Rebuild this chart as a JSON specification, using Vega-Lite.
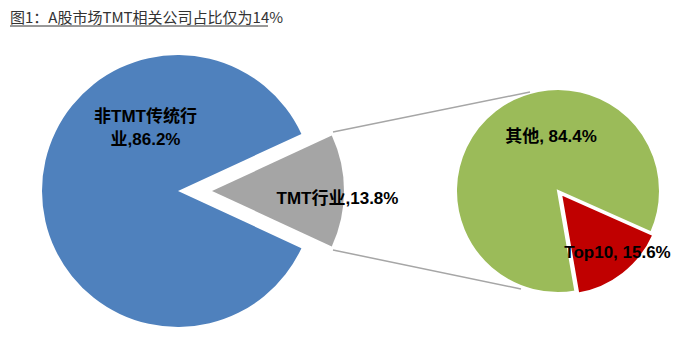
{
  "$schema": "https://vega.github.io/schema/vega-lite/v6.json",
  "width": 687,
  "height": 355,
  "autosize": {"type": "fit", "contains": "padding"},
  "padding": 0,
  "background": "white",
  "config": {"view": {"stroke": null}},
  "data": {
    "values": [
      {"pie": "全部A股", "category": "TMT行业", "share": 13.8, "label": "TMT行业,13.8%"},
      {"pie": "全部A股", "category": "非TMT传统行业", "share": 86.2, "label": ["非TMT传统行", "业,86.2%"]},
      {"pie": "TMT行业", "category": "Top10", "share": 15.6, "label": "Top10, 15.6%"},
      {"pie": "TMT行业", "category": "其他", "share": 84.4, "label": "其他, 84.4%"}
    ]
  },
  "layer": [
    {
      "transform": [
        {"stack": "share", "groupby": ["pie"], "as": ["s0", "s1"]},
        {"filter": "datum.category === '非TMT传统行业'"}
      ],
      "mark": {"type": "arc", "radius": 136, "color": "#4F81BD"},
      "encoding": {
        "x": {"datum": 178, "type": "quantitative", "scale": {"domain": [0, 687], "nice": false, "zero": false}, "axis": null},
        "y": {"datum": 191, "type": "quantitative", "scale": {"domain": [0, 355], "nice": false, "zero": false, "reverse": true}, "axis": null},
        "theta": {"field": "s0", "type": "quantitative", "scale": {"domain": [0, 100], "range": [1.1373, 7.4205]}},
        "theta2": {"field": "s1"}
      }
    },
    {
      "transform": [
        {"stack": "share", "groupby": ["pie"], "as": ["s0", "s1"]},
        {"filter": "datum.category === 'TMT行业'"}
      ],
      "mark": {"type": "arc", "radius": 132, "color": "#A5A5A5"},
      "encoding": {
        "x": {"datum": 212, "type": "quantitative", "scale": {"domain": [0, 687], "nice": false, "zero": false}, "axis": null},
        "y": {"datum": 191, "type": "quantitative", "scale": {"domain": [0, 355], "nice": false, "zero": false, "reverse": true}, "axis": null},
        "theta": {"field": "s0", "type": "quantitative", "scale": {"domain": [0, 100], "range": [1.1373, 7.4205]}},
        "theta2": {"field": "s1"}
      }
    },
    {
      "transform": [
        {"stack": "share", "groupby": ["pie"], "as": ["s0", "s1"]},
        {"filter": "datum.category === '其他'"}
      ],
      "mark": {"type": "arc", "radius": 102, "color": "#9BBB59", "stroke": "white", "strokeWidth": 2},
      "encoding": {
        "x": {"datum": 558, "type": "quantitative", "scale": {"domain": [0, 687], "nice": false, "zero": false}, "axis": null},
        "y": {"datum": 191, "type": "quantitative", "scale": {"domain": [0, 355], "nice": false, "zero": false, "reverse": true}, "axis": null},
        "theta": {"field": "s0", "type": "quantitative", "scale": {"domain": [0, 100], "range": [1.9897, 8.2729]}},
        "theta2": {"field": "s1"}
      }
    },
    {
      "transform": [
        {"stack": "share", "groupby": ["pie"], "as": ["s0", "s1"]},
        {"filter": "datum.category === 'Top10'"}
      ],
      "mark": {"type": "arc", "radius": 101, "color": "#C00000", "stroke": "white", "strokeWidth": 2},
      "encoding": {
        "x": {"datum": 561, "type": "quantitative", "scale": {"domain": [0, 687], "nice": false, "zero": false}, "axis": null},
        "y": {"datum": 194, "type": "quantitative", "scale": {"domain": [0, 355], "nice": false, "zero": false, "reverse": true}, "axis": null},
        "theta": {"field": "s0", "type": "quantitative", "scale": {"domain": [0, 100], "range": [1.9897, 8.2729]}},
        "theta2": {"field": "s1"}
      }
    },
    {
      "data": {"values": [{"connector": "top"}]},
      "mark": {"type": "rule", "color": "#A6A6A6", "strokeWidth": 1.5},
      "encoding": {
        "x": {"datum": 333, "type": "quantitative", "scale": {"domain": [0, 687], "nice": false, "zero": false}, "axis": null},
        "x2": {"datum": 530},
        "y": {"datum": 132, "type": "quantitative", "scale": {"domain": [0, 355], "nice": false, "zero": false, "reverse": true}, "axis": null},
        "y2": {"datum": 92}
      }
    },
    {
      "data": {"values": [{"connector": "bottom"}]},
      "mark": {"type": "rule", "color": "#A6A6A6", "strokeWidth": 1.5},
      "encoding": {
        "x": {"datum": 333, "type": "quantitative", "scale": {"domain": [0, 687], "nice": false, "zero": false}, "axis": null},
        "x2": {"datum": 521},
        "y": {"datum": 250, "type": "quantitative", "scale": {"domain": [0, 355], "nice": false, "zero": false, "reverse": true}, "axis": null},
        "y2": {"datum": 289}
      }
    },
    {
      "data": {"values": [{"title": "图1：A股市场TMT相关公司占比仅为14%"}]},
      "mark": {"type": "text", "font": "Noto Sans CJK SC", "fontSize": 15, "color": "#333333", "align": "left", "baseline": "alphabetic"},
      "encoding": {
        "x": {"datum": 10, "type": "quantitative", "scale": {"domain": [0, 687], "nice": false, "zero": false}, "axis": null},
        "y": {"datum": 23, "type": "quantitative", "scale": {"domain": [0, 355], "nice": false, "zero": false, "reverse": true}, "axis": null},
        "text": {"field": "title"}
      }
    },
    {
      "data": {"values": [{"underline": "title"}]},
      "mark": {"type": "rule", "color": "#333333", "strokeWidth": 1},
      "encoding": {
        "x": {"datum": 10, "type": "quantitative", "scale": {"domain": [0, 687], "nice": false, "zero": false}, "axis": null},
        "x2": {"datum": 268},
        "y": {"datum": 26, "type": "quantitative", "scale": {"domain": [0, 355], "nice": false, "zero": false, "reverse": true}, "axis": null}
      }
    },
    {
      "transform": [{"filter": "datum.category === '非TMT传统行业'"}],
      "mark": {"type": "text", "font": "Liberation Sans, Noto Sans CJK SC", "fontWeight": "bold", "fontSize": 17, "color": "#000000", "align": "center", "baseline": "middle", "lineHeight": 23},
      "encoding": {
        "x": {"datum": 145.5, "type": "quantitative", "scale": {"domain": [0, 687], "nice": false, "zero": false}, "axis": null},
        "y": {"datum": 116.5, "type": "quantitative", "scale": {"domain": [0, 355], "nice": false, "zero": false, "reverse": true}, "axis": null},
        "text": {"field": "label"}
      }
    },
    {
      "transform": [{"filter": "datum.category === 'TMT行业'"}],
      "mark": {"type": "text", "font": "Liberation Sans, Noto Sans CJK SC", "fontWeight": "bold", "fontSize": 17, "color": "#000000", "align": "center", "baseline": "middle"},
      "encoding": {
        "x": {"datum": 337.5, "type": "quantitative", "scale": {"domain": [0, 687], "nice": false, "zero": false}, "axis": null},
        "y": {"datum": 199, "type": "quantitative", "scale": {"domain": [0, 355], "nice": false, "zero": false, "reverse": true}, "axis": null},
        "text": {"field": "label"}
      }
    },
    {
      "transform": [{"filter": "datum.category === '其他'"}],
      "mark": {"type": "text", "font": "Liberation Sans, Noto Sans CJK SC", "fontWeight": "bold", "fontSize": 17, "color": "#000000", "align": "center", "baseline": "middle"},
      "encoding": {
        "x": {"datum": 551, "type": "quantitative", "scale": {"domain": [0, 687], "nice": false, "zero": false}, "axis": null},
        "y": {"datum": 137, "type": "quantitative", "scale": {"domain": [0, 355], "nice": false, "zero": false, "reverse": true}, "axis": null},
        "text": {"field": "label"}
      }
    },
    {
      "transform": [{"filter": "datum.category === 'Top10'"}],
      "mark": {"type": "text", "font": "Liberation Sans, Noto Sans CJK SC", "fontWeight": "bold", "fontSize": 17, "color": "#000000", "align": "center", "baseline": "middle"},
      "encoding": {
        "x": {"datum": 617.5, "type": "quantitative", "scale": {"domain": [0, 687], "nice": false, "zero": false}, "axis": null},
        "y": {"datum": 252.5, "type": "quantitative", "scale": {"domain": [0, 355], "nice": false, "zero": false, "reverse": true}, "axis": null},
        "text": {"field": "label"}
      }
    }
  ],
  "resolve": {"scale": {"theta": "independent"}}
}
